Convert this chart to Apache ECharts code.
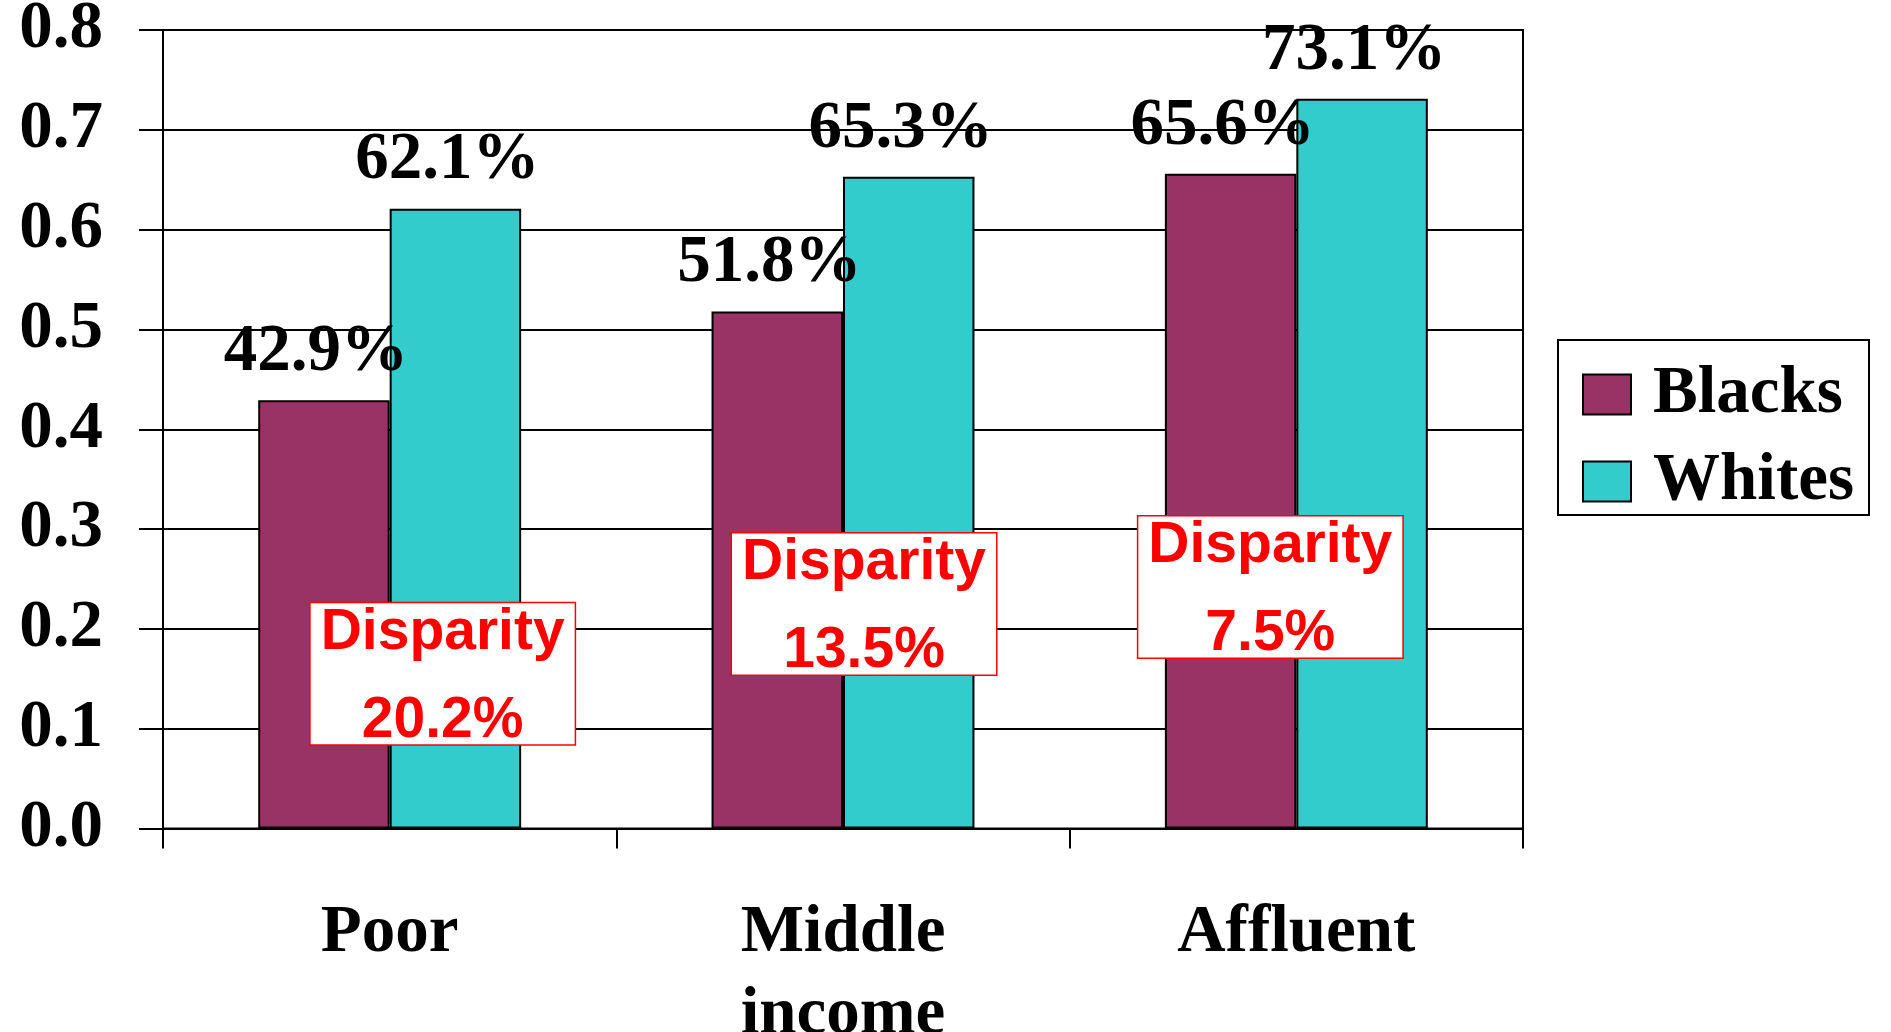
<!DOCTYPE html>
<html>
<head>
<meta charset="utf-8">
<script src="https://cdn.jsdelivr.net/npm/echarts@6/dist/echarts.min.js"></script>
<style>
html,body{margin:0;padding:0;background:#fff;}
#chart{width:1891px;height:1032px;}
</style>
</head>
<body>
<div id="chart"></div>
<script>
// ---- data ----
const categories = ['Poor', 'Middle\nincome', 'Affluent'];
const seriesNames = ['Blacks', 'Whites'];
const blacks = [0.429, 0.518, 0.656];
const whites = [0.621, 0.653, 0.731];
const disparityText = ['20.2%', '13.5%', '7.5%'];
// annotation anchors (value units) for the disparity boxes
const disparityAnchor = [0.155, 0.225, 0.242];
const disparityShift = [53, 21, -26];
const yTicks = [0, 0.1, 0.2, 0.3, 0.4, 0.5, 0.6, 0.7, 0.8];

const serif = "'Liberation Serif', 'Times New Roman', serif";
const sans = "'Liberation Sans', Arial, sans-serif";
const chart = echarts.init(document.getElementById('chart'));

const valueLabel = {
  show: true, position: 'top', distance: 14, offset: [-8, 0],
  fontFamily: serif, fontWeight: 'bold', fontSize: 67, lineHeight: 67, color: '#000',
  formatter: p => (p.value * 100).toFixed(1) + '%'
};

chart.setOption({
  animation: false,
  backgroundColor: '#fff',
  grid: {
    left: 163, top: 30, right: 368, bottom: 203.5,
    containLabel: false, outerBoundsMode: 'none',
    show: true, borderColor: '#000', borderWidth: 2, backgroundColor: 'transparent'
  },
  legend: {
    data: seriesNames,
    orient: 'vertical', left: 1558, top: 340,
    padding: [21, 15, 0, 24], itemGap: 20, itemWidth: 48, itemHeight: 40,
    borderColor: '#000', borderWidth: 2, icon: 'rect',
    itemStyle: { borderColor: '#000', borderWidth: 2 },
    textStyle: { fontFamily: serif, fontWeight: 'bold', fontSize: 67, lineHeight: 67, color: '#000', padding: [0, 0, 0, 17] }
  },
  xAxis: {
    type: 'category', data: categories, boundaryGap: true,
    axisLine: { show: true, lineStyle: { color: '#000', width: 2 } },
    axisTick: { show: true, interval: 0, length: 20, lineStyle: { color: '#000', width: 2 } },
    axisLabel: { interval: 0, margin: 64, fontFamily: serif, fontWeight: 'bold', fontSize: 67, lineHeight: 82, color: '#000' },
    splitLine: { show: false }
  },
  yAxis: {
    type: 'value', min: 0, max: 0.8, interval: 0.1,
    axisLine: { show: true, lineStyle: { color: '#000', width: 2 } },
    axisTick: { show: true, length: 24, lineStyle: { color: '#000', width: 2 } },
    axisLabel: { margin: 60, fontFamily: serif, fontWeight: 'bold', fontSize: 67, color: '#000',
      formatter: v => v.toFixed(1) },
    splitLine: { show: true, lineStyle: { color: '#000', width: 2 } }
  },
  series: [
    {
      name: seriesNames[0], type: 'bar', data: blacks, barGap: '0%', barCategoryGap: '42%',
      itemStyle: { color: '#993366', borderColor: '#000', borderWidth: 2 },
      label: valueLabel, z: 2
    },
    {
      name: seriesNames[1], type: 'bar', data: whites, barGap: '0%', barCategoryGap: '42%',
      itemStyle: { color: '#33CCCC', borderColor: '#000', borderWidth: 2 },
      label: valueLabel, z: 2
    },
    {
      name: 'Disparity', type: 'scatter', symbolSize: 0, z: 5, silent: true,
      itemStyle: { opacity: 1 },
      emphasis: { disabled: true },
      data: categories.map((c, i) => ({
        value: [i, disparityAnchor[i]],
        label: { offset: [disparityShift[i], 0] }
      })),
      label: {
        show: true, position: 'inside', opacity: 1,
        formatter: p => '{a|Disparity}\n{s| }\n{b|' + disparityText[p.dataIndex] + '}',
        backgroundColor: '#fff', borderColor: '#FF0000', borderWidth: 1.5,
        padding: [0, 8, 0, 8], width: 248, align: 'center',
        rich: {
          a: { fontFamily: sans, fontWeight: 'bold', fontSize: 57, lineHeight: 60, color: '#FF0000', align: 'center' },
          s: { fontSize: 1, lineHeight: 35 },
          b: { fontFamily: sans, fontWeight: 'bold', fontSize: 57, lineHeight: 46, color: '#FF0000', align: 'center' }
        }
      }
    }
  ]
});
</script>
</body>
</html>
